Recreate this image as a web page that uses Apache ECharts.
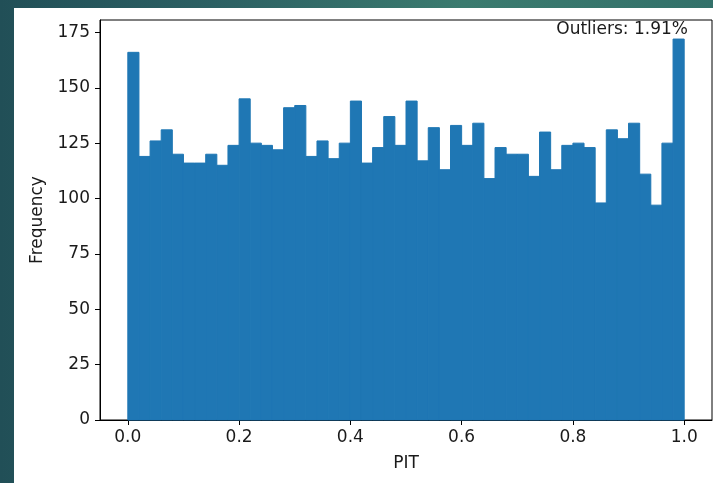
<!DOCTYPE html>
<html>
<head>
<meta charset="utf-8">
<script src="https://cdn.jsdelivr.net/npm/echarts@6/dist/echarts.min.js"></script>
<style>
	html, body {
		margin: 0;
		padding: 0;
		width: 713px;
		height: 483px;
		overflow: hidden;
		background: linear-gradient(to right, #214f57 0%, #2c6063 30%, #3b7b6f 65%, #33716a 100%);
	}
	#chart {
		position: absolute;
		left: 14px;
		top: 8px;
		width: 699px;
		height: 475px;
		background: #fff;
	}
</style>
</head>
<body>
<div id="chart"></div>
<script>
	//直方图数据 (50个箱, 宽0.02)
	var binWidth = 0.02;
	var counts = [
		166, 119, 126, 131, 120, 116, 116, 120, 115, 124,
		145, 125, 124, 122, 141, 142, 119, 126, 118, 125,
		144, 116, 123, 137, 124, 144, 117, 132, 113, 133,
		124, 134, 109, 123, 120, 120, 110, 130, 113, 124,
		125, 123, 98, 131, 127, 134, 111, 97, 125, 172
	];
	var xTicks = [0, 0.2, 0.4, 0.6, 0.8, 1.0];
	var yTicks = [0, 25, 50, 75, 100, 125, 150, 175];
	var outlierText = 'Outliers: 1.91%';

	var font = 'DejaVu Sans';
	var textColor = '#1a1a1a';

	//每个箱的起止
	var bins = [];
	for (var i = 0; i < counts.length; i++) {
		bins.push([i * binWidth, (i + 1) * binWidth, counts[i]]);
	}
	var yMax = Math.max.apply(null, counts) * 1.05;

	var myChart = echarts.init(document.getElementById('chart'));
	var option = {
		animation: false,
		grid: {
			left: 86,
			top: 12,
			right: 1,
			bottom: 63,
			show: true,
			borderColor: '#000',
			borderWidth: 1,
			backgroundColor: 'transparent'
		},
		xAxis: {
			type: 'value',
			min: -0.05,
			max: 1.05,
			name: 'PIT',
			nameLocation: 'middle',
			nameGap: 35,
			nameTextStyle: { fontFamily: font, fontSize: 17, color: textColor },
			axisLine: { show: true, onZero: false, lineStyle: { color: '#000', width: 1 } },
			axisTick: { show: true, length: 5, customValues: xTicks, lineStyle: { color: '#000' } },
			axisLabel: {
				customValues: xTicks,
				margin: 9,
				fontFamily: font,
				fontSize: 17,
				color: textColor,
				formatter: function(v) { return v.toFixed(1); }
			},
			splitLine: { show: false }
		},
		yAxis: {
			type: 'value',
			min: 0,
			max: yMax,
			name: 'Frequency',
			nameLocation: 'middle',
			nameRotate: 90,
			nameGap: 54,
			nameTextStyle: { fontFamily: font, fontSize: 17, color: textColor },
			axisLine: { show: true, onZero: false, lineStyle: { color: '#000', width: 1 } },
			axisTick: { show: true, length: 5, customValues: yTicks, lineStyle: { color: '#000' } },
			axisLabel: {
				customValues: yTicks,
				margin: 10,
				fontFamily: font,
				fontSize: 17,
				color: textColor
			},
			splitLine: { show: false }
		},
		graphic: [{
			type: 'text',
			right: 25,
			top: 13,
			z: 100,
			style: {
				text: outlierText,
				fontFamily: font,
				fontSize: 17,
				fill: textColor
			}
		}],
		series: [{
			type: 'custom',
			data: bins,
			encode: { x: [0, 1], y: 2 },
			renderItem: function(params, api) {
				var p0 = api.coord([api.value(0), 0]);
				var p1 = api.coord([api.value(1), api.value(2)]);
				return {
					type: 'rect',
					shape: { x: p0[0], y: p1[1], width: p1[0] - p0[0], height: p0[1] - p1[1] },
					style: { fill: '#1f77b4', stroke: '#1f77b4', lineWidth: 1 }
				};
			}
		}]
	};
	myChart.setOption(option);
</script>
</body>
</html>
